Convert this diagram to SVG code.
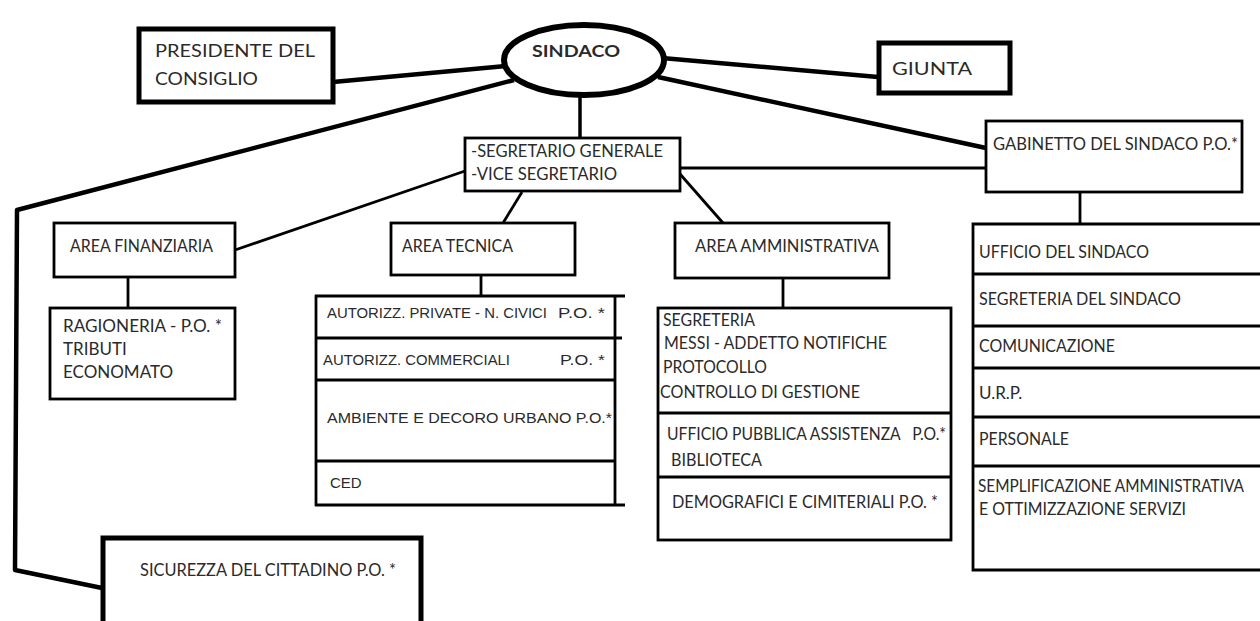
<svg xmlns="http://www.w3.org/2000/svg" width="1260" height="621" viewBox="0 0 1260 621">
<style>
.bg{fill:#fff}
.box{fill:#fff;stroke:#000;stroke-width:2.8}
.thick{fill:#fff;stroke:#000;stroke-width:5}
.ln{fill:none;stroke:#000;stroke-width:2.8}
.tl{fill:none;stroke:#000;stroke-width:4.5;stroke-linejoin:round}
.t{font-family:Lato,"Open Sans",sans-serif;fill:#2a2a2a;font-size:17px}
.a{font-family:"Liberation Sans",Arial,sans-serif;fill:#2a2a2a;font-size:15px}
</style>
<rect class="bg" x="0" y="0" width="1260" height="621"/>
<g id="connectors">
  <line class="tl" x1="333" y1="82" x2="506" y2="66"/>
  <polyline class="tl" points="514,80 17,210 15,570 102,588"/>
  <line class="tl" x1="662" y1="58" x2="878" y2="77"/>
  <line class="tl" x1="658" y1="77" x2="986" y2="148"/>
  <line class="ln" x1="580" y1="96" x2="580" y2="138" style="stroke-width:3.5"/>
  <line class="ln" x1="680" y1="168" x2="986" y2="168"/>
  <line class="ln" x1="465" y1="171" x2="235" y2="250"/>
  <line class="ln" x1="522" y1="192" x2="503" y2="223"/>
  <line class="ln" x1="680" y1="174" x2="723" y2="223"/>
  <line class="ln" x1="128" y1="277" x2="128" y2="308"/>
  <line class="ln" x1="481" y1="275" x2="481" y2="296"/>
  <line class="ln" x1="783" y1="278" x2="783" y2="308"/>
  <line class="ln" x1="1080" y1="192" x2="1080" y2="224"/>
</g>
<g id="presidente">
  <rect class="thick" x="139" y="29" width="194" height="73"/>
  <text class="t" x="155" y="57" font-size="22" textLength="160" lengthAdjust="spacingAndGlyphs">PRESIDENTE DEL</text>
  <text class="t" x="155" y="85" font-size="22" textLength="103" lengthAdjust="spacingAndGlyphs">CONSIGLIO</text>
</g>
<g id="sindaco">
  <ellipse cx="584" cy="60" rx="80" ry="35" fill="#fff" stroke="#000" stroke-width="6"/>
  <text class="t" x="532" y="57" font-size="20" font-weight="bold" textLength="88" lengthAdjust="spacingAndGlyphs">SINDACO</text>
</g>
<g id="giunta">
  <rect class="thick" x="879" y="43" width="131" height="50"/>
  <text class="t" x="892" y="75" font-size="22" textLength="80" lengthAdjust="spacingAndGlyphs">GIUNTA</text>
</g>
<g id="gabinetto">
  <rect class="box" x="986" y="121" width="256" height="71"/>
  <text class="t" x="993" y="150" textLength="245" lengthAdjust="spacingAndGlyphs">GABINETTO DEL SINDACO P.O.*</text>
</g>
<g id="segretario">
  <rect class="box" x="465" y="138" width="215" height="53"/>
  <text class="t" x="471" y="157" textLength="192" lengthAdjust="spacingAndGlyphs">-SEGRETARIO GENERALE</text>
  <text class="t" x="471" y="180" textLength="146" lengthAdjust="spacingAndGlyphs">-VICE SEGRETARIO</text>
</g>
<g id="area-finanziaria">
  <rect class="box" x="54" y="223" width="181" height="54"/>
  <text class="t" x="70" y="252" textLength="143" lengthAdjust="spacingAndGlyphs">AREA FINANZIARIA</text>
</g>
<g id="ragioneria">
  <rect class="box" x="50" y="308" width="185" height="91"/>
  <text class="t" x="63" y="332" textLength="159" lengthAdjust="spacingAndGlyphs">RAGIONERIA - P.O. *</text>
  <text class="t" x="63" y="355">TRIBUTI</text>
  <text class="t" x="63" y="378">ECONOMATO</text>
</g>
<g id="area-tecnica">
  <rect class="box" x="391" y="223" width="184" height="52"/>
  <text class="t" x="402" y="252" textLength="111" lengthAdjust="spacingAndGlyphs">AREA TECNICA</text>
</g>
<g id="tecnica-uffici">
  <line class="ln" x1="316" y1="295" x2="316" y2="506"/>
  <line class="ln" x1="615" y1="295" x2="615" y2="506"/>
  <line class="ln" x1="315" y1="296" x2="625" y2="296"/>
  <line class="ln" x1="315" y1="338" x2="622" y2="338"/>
  <line class="ln" x1="315" y1="380" x2="615" y2="380"/>
  <line class="ln" x1="315" y1="461" x2="615" y2="461"/>
  <line class="ln" x1="315" y1="505" x2="625" y2="505"/>
  <text class="a" x="327" y="318" textLength="220" lengthAdjust="spacingAndGlyphs">AUTORIZZ. PRIVATE - N. CIVICI</text>
  <text class="a" x="558" y="318" textLength="47" lengthAdjust="spacingAndGlyphs">P.O. *</text>
  <text class="a" x="323" y="365" textLength="187" lengthAdjust="spacingAndGlyphs">AUTORIZZ. COMMERCIALI</text>
  <text class="a" x="560" y="365" textLength="45" lengthAdjust="spacingAndGlyphs">P.O. *</text>
  <text class="a" x="327" y="423" textLength="285" lengthAdjust="spacingAndGlyphs">AMBIENTE E DECORO URBANO P.O.*</text>
  <text class="a" x="330" y="488">CED</text>
</g>
<g id="area-amministrativa">
  <rect class="box" x="675" y="223" width="214" height="55"/>
  <text class="t" x="695" y="252" textLength="184" lengthAdjust="spacingAndGlyphs">AREA AMMINISTRATIVA</text>
</g>
<g id="amministrativa-uffici">
  <rect class="box" x="658" y="308" width="293" height="232"/>
  <line class="ln" x1="658" y1="413" x2="951" y2="413"/>
  <line class="ln" x1="658" y1="477" x2="951" y2="477"/>
  <text class="t" x="663" y="326" textLength="92" lengthAdjust="spacingAndGlyphs">SEGRETERIA</text>
  <text class="t" x="664" y="349" textLength="223" lengthAdjust="spacingAndGlyphs">MESSI - ADDETTO NOTIFICHE</text>
  <text class="t" x="663" y="373" textLength="104" lengthAdjust="spacingAndGlyphs">PROTOCOLLO</text>
  <text class="t" x="660" y="398" textLength="200" lengthAdjust="spacingAndGlyphs">CONTROLLO DI GESTIONE</text>
  <text class="t" x="667" y="440" font-size="15" xml:space="preserve" textLength="279" lengthAdjust="spacingAndGlyphs">UFFICIO PUBBLICA ASSISTENZA   P.O.*</text>
  <text class="t" x="671" y="466" textLength="91" lengthAdjust="spacingAndGlyphs">BIBLIOTECA</text>
  <text class="t" x="672" y="508" textLength="266" lengthAdjust="spacingAndGlyphs">DEMOGRAFICI E CIMITERIALI P.O. *</text>
</g>
<g id="gabinetto-uffici">
  <polyline class="ln" points="1262,224 973,224 973,570 1262,570"/>
  <line class="ln" x1="973" y1="274" x2="1260" y2="274"/>
  <line class="ln" x1="973" y1="326" x2="1260" y2="326"/>
  <line class="ln" x1="973" y1="368" x2="1260" y2="368"/>
  <line class="ln" x1="973" y1="417" x2="1260" y2="417"/>
  <line class="ln" x1="973" y1="466" x2="1260" y2="466"/>
  <text class="t" x="979" y="258" textLength="170" lengthAdjust="spacingAndGlyphs">UFFICIO DEL SINDACO</text>
  <text class="t" x="979" y="305" textLength="202" lengthAdjust="spacingAndGlyphs">SEGRETERIA DEL SINDACO</text>
  <text class="t" x="979" y="352" textLength="136" lengthAdjust="spacingAndGlyphs">COMUNICAZIONE</text>
  <text class="t" x="979" y="399">U.R.P.</text>
  <text class="t" x="979" y="445" textLength="90" lengthAdjust="spacingAndGlyphs">PERSONALE</text>
  <text class="t" x="978" y="492" font-size="14" textLength="266" lengthAdjust="spacingAndGlyphs">SEMPLIFICAZIONE AMMINISTRATIVA</text>
  <text class="t" x="979" y="515" textLength="207" lengthAdjust="spacingAndGlyphs">E OTTIMIZZAZIONE SERVIZI</text>
</g>
<g id="sicurezza">
  <rect class="thick" x="103" y="538" width="318" height="100"/>
  <text class="t" x="140" y="576" textLength="256" lengthAdjust="spacingAndGlyphs">SICUREZZA DEL CITTADINO P.O. *</text>
</g>
</svg>
